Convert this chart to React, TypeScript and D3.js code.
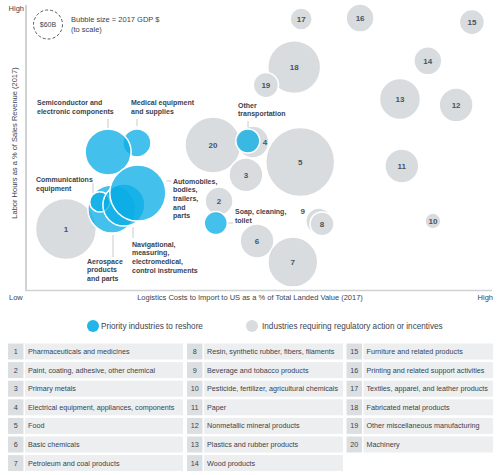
import React from 'react';
import * as d3 from 'd3';

// ---------- DATA ----------
// Gray bubbles: industries requiring regulatory action or incentives (ids 1..20)
const grayIds = [1, 2, 3, 4, 5, 6, 7, 8, 9, 10, 11, 12, 13, 14, 15, 16, 17, 18, 19, 20];
// Logistics cost (x, 0-100 relative scale)
const grayLogistics = [8.6, 41.6, 47.4, 48.9, 59.1, 49.8, 57.5, 63.8, 63.1, 87.7, 81.0, 92.7, 80.6, 86.6, 96.1, 72.0, 59.3, 57.8, 51.7, 40.3];
// Labor hours (y, 0-100 relative scale)
const grayLabor = [21.4, 31.2, 40.4, 51.9, 44.9, 17.2, 9.8, 23.2, 24.2, 24.2, 43.5, 64.9, 67.0, 80.4, 94.0, 95.4, 95.1, 78.2, 71.9, 50.9];
// 2017 GDP, $B
const grayGdp = [265, 56, 82, 73, 340, 82, 178, 41, 48, 18, 82, 82, 120, 56, 45, 56, 35, 200, 45, 224];
// draw order (later on top)
const grayOrder = [9, 20, 4, 3, 5, 2, 6, 7, 8, 1, 10, 11, 12, 13, 14, 15, 16, 17, 18, 19];

// Blue bubbles: priority industries to reshore
const priorityNames = [
  'Medical equipment and supplies',
  'Semiconductor and electronic components',
  'Aerospace products and parts',
  'Communications equipment',
  'Navigational, measuring, electromedical, control instruments',
  'Automobiles, bodies, trailers, and parts',
  'Other transportation',
  'Soap, cleaning, toilet',
];
const priorityLogistics = [23.9, 17.7, 18.5, 15.9, 21.1, 24.1, 47.8, 40.9];
const priorityLabor = [51.6, 48.4, 28.4, 30.9, 29.8, 34.0, 52.3, 23.5];
const priorityGdp = [56, 151, 164, 29, 126, 224, 41, 38];

// Table of industry names
const industryNames = [
  'Pharmaceuticals and medicines',
  'Paint, coating, adhesive, other chemical',
  'Primary metals',
  'Electrical equipment, appliances, components',
  'Food',
  'Basic chemicals',
  'Petroleum and coal products',
  'Resin, synthetic rubber, fibers, filaments',
  'Beverage and tobacco products',
  'Pesticide, fertilizer, agricultural chemicals',
  'Paper',
  'Nonmetallic mineral products',
  'Plastics and rubber products',
  'Wood products',
  'Furniture and related products',
  'Printing and related support activities',
  'Textiles, apparel, and leather products',
  'Fabricated metal products',
  'Other miscellaneous manufacturing',
  'Machinery',
];

const legendLabels = ['Priority industries to reshore', 'Industries requiring regulatory action or incentives'];
const sizeLegendValue = 60;

// ---------- LAYOUT ----------
const W = 500;
const H = 475;
const TEXT = '#3a434e';
const NUM = '#4a535e';
const GRAY = '#d9dcdf';
const BLUE = '#0badE5';
const FONT = "'Liberation Sans', Arial, sans-serif";

const x = d3.scaleLinear().domain([0, 100]).range([26, 490]);
const y = d3.scaleLinear().domain([0, 100]).range([290, 5]);
const r = d3.scaleSqrt().domain([0, 60]).range([0, 14.5]);

// label placement offsets for gray numbers (relative to bubble centre)
const grayLabelOffset: Record<number, [number, number]> = { 4: [12, 0], 9: [-16, -10] };

// annotation layout for blue bubbles: text lines, text origin, leader line
type Ann = { lines: string[]; tx: number; ty: number; lead: [number, number, number, number] };
const annotations: Ann[] = [
  { lines: ['Medical equipment', 'and supplies'], tx: 131, ty: 105, lead: [137, 119, 137, 126] },
  { lines: ['Semiconductor and', 'electronic components'], tx: 37, ty: 105, lead: [108, 119, 108, 128] },
  { lines: ['Aerospace', 'products', 'and parts'], tx: 87, ty: 263.5, lead: [113, 235, 113, 257] },
  { lines: ['Communications', 'equipment'], tx: 36, ty: 182, lead: [93, 183, 93, 193] },
  { lines: ['Navigational,', 'measuring,', 'electromedical,', 'control instruments'], tx: 132, ty: 246.5, lead: [133, 227, 133, 238] },
  { lines: ['Automobiles,', 'bodies,', 'trailers,', 'and', 'parts'], tx: 173, ty: 183.5, lead: [166.5, 181, 171.5, 181] },
  { lines: ['Other', 'transportation'], tx: 238, ty: 107.5, lead: [248, 121, 248, 127] },
  { lines: ['Soap, cleaning,', 'toilet'], tx: 235, ty: 214, lead: [228.5, 223, 233, 223] },
];

export default function App() {
  const grayById = (id: number) => grayIds.indexOf(id);

  const rowTop = (i: number) => 343.5 + i * 18.6;
  const cols = [
    { nx: 8, nw: 15.5, tx: 25, tw: 158 },
    { nx: 187, nw: 15.5, tx: 204, tw: 139 },
    { nx: 346.5, nw: 15.5, tx: 363.5, tw: 129.5 },
  ];
  const perCol = [7, 7, 6];

  return (
    <svg width={W} height={H} style={{ position: 'absolute', left: 0, top: 0, fontFamily: FONT }}>
      <rect width={W} height={H} fill="#fff" />

      {/* axes */}
      <line x1={26} y1={5} x2={26} y2={291} stroke="#cfd2d5" strokeWidth={2} />
      <line x1={25} y1={290.5} x2={492} y2={290.5} stroke="#cfd2d5" strokeWidth={1.5} />
      <text x={24} y={10.5} fontSize={7.5} fill={TEXT} textAnchor="end">High</text>
      <text x={9} y={300} fontSize={7.5} fill={TEXT}>Low</text>
      <text x={493} y={300} fontSize={7.5} fill={TEXT} textAnchor="end">High</text>
      <text x={250} y={300} fontSize={7.5} fill={TEXT} textAnchor="middle">
        Logistics Costs to Import to US as a % of Total Landed Value (2017)
      </text>
      <text transform="translate(17,143) rotate(-90)" fontSize={7.5} fill={TEXT} textAnchor="middle">
        Labor Hours as a % of Sales Revenue (2017)
      </text>

      {/* size legend */}
      <circle cx={48} cy={24.5} r={r(sizeLegendValue)} fill="none" stroke="#555c64" strokeWidth={1} strokeDasharray="3,2" />
      <text x={48} y={27} fontSize={7} fill={TEXT} textAnchor="middle">${sizeLegendValue}B</text>
      <text x={71} y={21.5} fontSize={7.5} fill={TEXT}>Bubble size = 2017 GDP $</text>
      <text x={71} y={31.5} fontSize={7.5} fill={TEXT}>(to scale)</text>

      {/* gray bubbles */}
      {grayOrder.map((id) => {
        const i = grayById(id);
        return (
          <circle key={'g' + id} cx={x(grayLogistics[i])} cy={y(grayLabor[i])} r={r(grayGdp[i])}
            fill={GRAY} stroke="#fff" strokeWidth={1.5} />
        );
      })}

      {/* blue bubbles */}
      {priorityNames.map((n, i) => (
        <circle key={'b' + i} cx={x(priorityLogistics[i])} cy={y(priorityLabor[i])} r={r(priorityGdp[i])}
          fill={BLUE} fillOpacity={0.77} stroke="#fff" strokeWidth={1.5} />
      ))}

      {/* gray numbers */}
      {grayIds.map((id, i) => {
        const off = grayLabelOffset[id] || [0, 0];
        return (
          <text key={'gt' + id} x={x(grayLogistics[i]) + off[0]} y={y(grayLabor[i]) + off[1] + 2.8}
            fontSize={8} fontWeight="bold" fill={NUM} textAnchor="middle">{id}</text>
        );
      })}

      {/* annotations */}
      {annotations.map((a, i) => (
        <g key={'a' + i}>
          <line x1={a.lead[0]} y1={a.lead[1]} x2={a.lead[2]} y2={a.lead[3]} stroke="#b9bdc1" strokeWidth={0.8} />
          {a.lines.map((l, j) => (
            <text key={j} x={a.tx} y={a.ty + j * 8.7} fontSize={7} fontWeight="bold" fill={TEXT}>{l}</text>
          ))}
        </g>
      ))}

      {/* category legend */}
      <circle cx={93} cy={326} r={6} fill={BLUE} fillOpacity={0.9} />
      <text x={101} y={329} fontSize={8.2} fill={TEXT}>{legendLabels[0]}</text>
      <circle cx={252} cy={326} r={6} fill={GRAY} />
      <text x={262} y={329} fontSize={8.2} fill={TEXT}>{legendLabels[1]}</text>

      {/* table */}
      {industryNames.map((name, k) => {
        let c = 0;
        let row = k;
        while (row >= perCol[c]) { row -= perCol[c]; c++; }
        const col = cols[c];
        const top = rowTop(row);
        return (
          <g key={'t' + k}>
            <rect x={col.nx} y={top} width={col.nw} height={16} fill="#dcdfe2" />
            <rect x={col.tx} y={top} width={col.tw} height={16} fill="#eceef0" />
            <text x={col.nx + col.nw / 2} y={top + 10.5} fontSize={7.2} fill={TEXT} textAnchor="middle">{k + 1}</text>
            <text x={col.tx + 3} y={top + 10.5} fontSize={7.2} fill={TEXT}>{name}</text>
          </g>
        );
      })}
    </svg>
  );
}
